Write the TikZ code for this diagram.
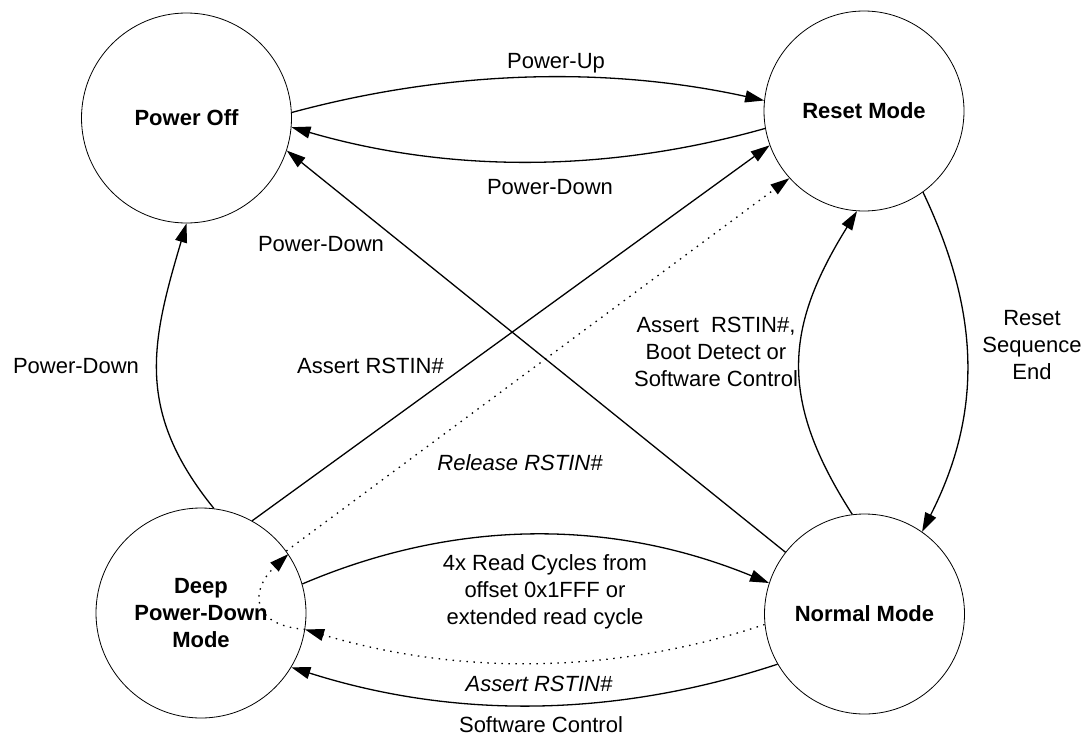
\documentclass[tikz,border=0pt]{standalone}
\usepackage{fontspec}
\setmainfont{Liberation Sans}
\usetikzlibrary{arrows.meta}
\begin{document}
\begin{tikzpicture}[x=1pt,y=-1pt,
  state/.style={circle,draw,line width=0.8pt,inner sep=0pt,align=center,font=\fontsize{22}{27}\selectfont\bfseries},
  lbl/.style={inner sep=0pt,align=center,font=\fontsize{22}{27}\selectfont},
  conn/.style={line width=1.3pt,-{Triangle[length=19pt,width=12pt]}},
  dotc/.style={conn,dash pattern=on 1.5pt off 5.5pt},
]
\useasboundingbox (0,0) rectangle (1087,736);
\node[state,minimum size=210pt] (po) at (186.5,118) {Power Off};
\node[state,minimum size=200pt] (rm) at (864,111) {Reset Mode};
\node[state,minimum size=210pt] (dp) at (201,613) {Deep\\Power-Down\\Mode};
\node[state,minimum size=200pt] (nm) at (864.5,614) {Normal Mode};

\draw[conn] (po.3) .. controls (449,70) and (607,66) .. (rm.174.9);
\draw[conn] (rm.-170.8) .. controls (607,173) and (449,173) .. (po.-5.4);
\draw[conn] (nm.142) -- (po.-18.5);
\draw[conn] (dp.61.7) -- (rm.200.4);
\draw[dotc] (dp.36) -- (rm.222.5);
\draw[dotc] (nm.186.2) .. controls (616,674) and (461,676) .. (dp.-9.3);
\draw[dotc] (dp.-9.3) .. controls (250,625) and (250,590) .. (dp.34);
\draw[conn] (dp.16.5) .. controls (457,518) and (613,519) .. (nm.162.7);
\draw[conn] (nm.210.2) .. controls (614,718) and (454,719) .. (dp.-31.8);
\draw[conn] (dp.83.4) .. controls (135,411) and (151,343) .. (po.-90);
\draw[conn] (nm.97) .. controls (778,399) and (785,327) .. (rm.266);
\draw[conn] (rm.-54) .. controls (980,312) and (983,412) .. (nm.55.6);

\node[lbl,anchor=base] (l1) at (556,68) {Power-Up};
\node[lbl,anchor=base] (l2) at (550,194) {Power-Down};
\node[lbl,anchor=base] (l3) at (321,251) {Power-Down};
\node[lbl,anchor=base] (l4) at (76,373) {Power-Down};
\node[lbl,anchor=base] (l5) at (370.5,373) {Assert RSTIN\#};
\node[lbl,anchor=base] (l6) at (520,470) {\itshape Release RSTIN\#};
\node[lbl] (l7) at (716,352) {Assert\ \ RSTIN\#,\\Boot Detect or\\Software Control};
\node[lbl] (l8) at (1032,345) {Reset\\Sequence\\End};
\node[lbl] (l9) at (545,592) {4x Read Cycles from\\offset 0x1FFF or\\extended read cycle};
\node[lbl,anchor=base] (l10) at (539,691) {\itshape Assert RSTIN\#};
\node[lbl,anchor=base] (l11) at (541,732) {Software Control};
\end{tikzpicture}
\end{document}
